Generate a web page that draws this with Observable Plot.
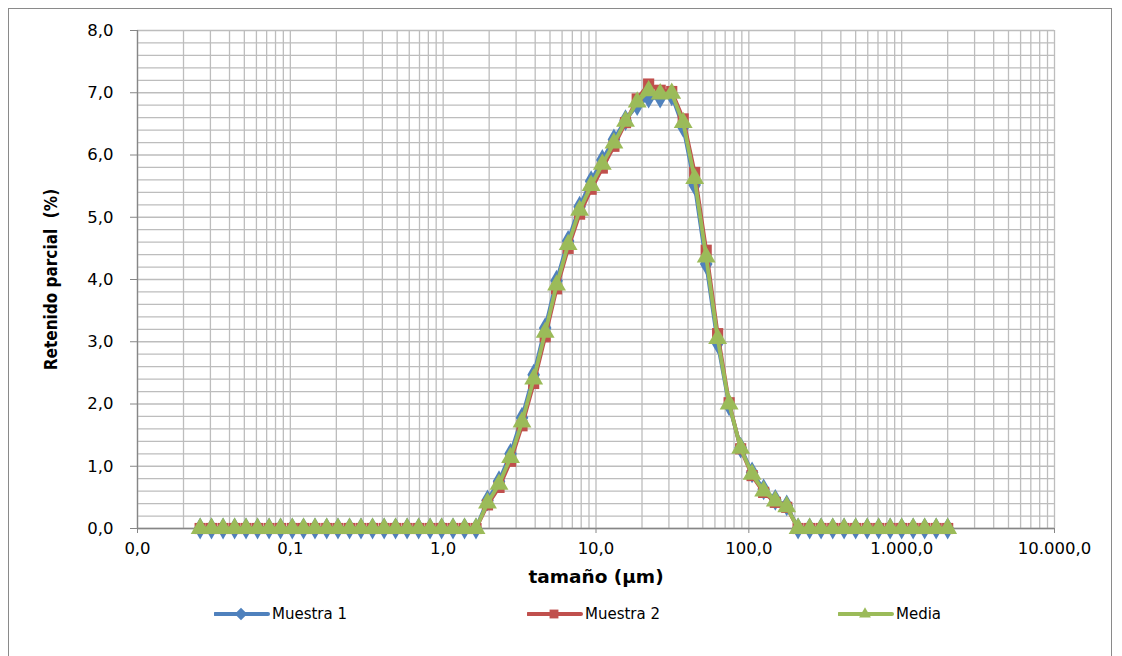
<!DOCTYPE html>
<html>
<head>
<meta charset="utf-8">
<script src="https://cdn.jsdelivr.net/npm/d3@7"></script>
<script src="https://cdn.jsdelivr.net/npm/@observablehq/plot@0.6"></script>
<style>
  html, body { margin: 0; padding: 0; background: #fff; }
  #wrap { position: relative; width: 1122px; height: 656px; overflow: hidden; font-family: "DejaVu Sans", sans-serif; }
  #border { position: absolute; left: 8px; top: 8px; width: 1104px; height: 700px; border: 1px solid #8a8a8a; box-sizing: border-box; }
  #chart { position: absolute; left: 0; top: 0; }
  #legend { position: absolute; left: 0; top: 604px; width: 1122px; height: 22px; }
  .item { position: absolute; top: 0; display: flex; align-items: center; font-size: 15px; color: #000; }
  .item svg { display: block; }
</style>
</head>
<body>
<div id="wrap">
  <div id="border"></div>
  <div id="chart"></div>
  <div id="legend"></div>
</div>
<script>
// Particle size classes (µm)
const sizes = [
  0.0257, 0.0305, 0.0363, 0.0432, 0.0513, 0.0610, 0.0726, 0.0863,
  0.103, 0.122, 0.145, 0.173, 0.205, 0.244, 0.290, 0.345,
  0.411, 0.488, 0.581, 0.691, 0.821, 0.977, 1.16, 1.38,
  1.64, 1.95, 2.32, 2.76, 3.28, 3.91, 4.65, 5.52,
  6.57, 7.81, 9.29, 11.0, 13.1, 15.6, 18.6, 22.1,
  26.3, 31.3, 37.2, 44.2, 52.6, 62.5, 74.3, 88.4,
  105, 125, 149, 177, 210, 250, 297, 354,
  420, 500, 595, 707, 841, 1000, 1189, 1414,
  1682, 2000
];

// Retenido parcial (%) per size class
const muestra1 = [
  0, 0, 0, 0, 0, 0, 0, 0, 0, 0, 0, 0, 0, 0, 0, 0, 0, 0, 0, 0, 0, 0, 0, 0, 0,
  0.45, 0.76, 1.20, 1.78, 2.47, 3.22, 3.98, 4.62, 5.17, 5.58, 5.92, 6.25, 6.56,
  6.80, 6.92, 6.92, 6.96, 6.45, 5.52, 4.25, 2.98, 1.98, 1.30, 0.90, 0.63, 0.46, 0.37,
  0, 0, 0, 0, 0, 0, 0, 0, 0, 0, 0, 0, 0, 0
];
const muestra2 = [
  0, 0, 0, 0, 0, 0, 0, 0, 0, 0, 0, 0, 0, 0, 0, 0, 0, 0, 0, 0, 0, 0, 0, 0, 0,
  0.38, 0.66, 1.08, 1.65, 2.33, 3.08, 3.85, 4.50, 5.05, 5.45, 5.79, 6.14, 6.52,
  6.90, 7.14, 7.04, 7.02, 6.58, 5.72, 4.47, 3.13, 2.02, 1.28, 0.85, 0.58, 0.42, 0.34,
  0, 0, 0, 0, 0, 0, 0, 0, 0, 0, 0, 0, 0, 0
];
const media = [
  0, 0, 0, 0, 0, 0, 0, 0, 0, 0, 0, 0, 0, 0, 0, 0, 0, 0, 0, 0, 0, 0, 0, 0, 0,
  0.41, 0.71, 1.14, 1.71, 2.40, 3.15, 3.91, 4.56, 5.11, 5.51, 5.85, 6.19, 6.54,
  6.85, 7.03, 6.98, 6.99, 6.52, 5.62, 4.36, 3.05, 2.00, 1.29, 0.87, 0.60, 0.44, 0.35,
  0, 0, 0, 0, 0, 0, 0, 0, 0, 0, 0, 0, 0, 0
];

const seriesNames = ["Muestra 1", "Muestra 2", "Media"];
const seriesColors = ["#4F81BD", "#C0504D", "#9BBB59"];
const seriesSymbols = ["diamond", "square", "triangle"];
const markerRadius = [6.6, 6.3, 7];
const xTickValues = [0.01, 0.1, 1, 10, 100, 1000, 10000];
const yTickValues = [0, 1, 2, 3, 4, 5, 6, 7, 8];
const xTitle = "tamaño (µm)";
const yTitle = "Retenido parcial\u00a0 (%)";

// Spanish number formatting: comma decimals, dot thousands
const es = d3.formatLocale({decimal: ",", thousands: ".", grouping: [3], currency: ["", " €"]});
const fmt = es.format(",.1f");

// Minor log grid (1..9 per decade) and 0.2 horizontal grid
const xGrid = [];
for (let e = -2; e < 4; ++e) for (let m = 1; m < 10; ++m) xGrid.push(+(m * Math.pow(10, e)).toPrecision(3));
xGrid.push(10000);
const yGrid = d3.range(0, 41).map(i => +(i * 0.2).toFixed(1));

const rows = [muestra1, muestra2, media].map((vals, s) =>
  sizes.map((x, i) => ({serie: seriesNames[s], x, y: vals[i]}))
);

const seriesMarks = rows.flatMap((data, s) => [
  Plot.line(data, {x: "x", y: "y", stroke: seriesColors[s], strokeWidth: 3.8, strokeLinejoin: "round"}),
  Plot.dot(data, {x: "x", y: "y", symbol: seriesSymbols[s], fill: seriesColors[s], stroke: "none", r: markerRadius[s]})
]);

const chart = Plot.plot({
  width: 1122,
  height: 600,
  marginLeft: 137,
  marginRight: 68,
  marginTop: 30,
  marginBottom: 72,
  style: {fontFamily: "DejaVu Sans, sans-serif", fontSize: "16.5px", color: "#000", background: "transparent"},
  x: {type: "log", domain: [0.01, 10000]},
  y: {domain: [0, 8]},
  marks: [
    Plot.gridX(xGrid, {stroke: "#bdbdbd", strokeOpacity: 1, strokeWidth: 1.3}),
    Plot.gridY(yGrid, {stroke: "#bdbdbd", strokeOpacity: 1, strokeWidth: 1.3}),
    Plot.ruleY([0], {stroke: "#868686", strokeWidth: 1.3}),
    Plot.ruleX([0.01], {stroke: "#868686", strokeWidth: 1.3}),
    Plot.axisX(xTickValues, {tickFormat: fmt, tickSize: 5, tickPadding: 9, stroke: "#868686", fill: "#000", fontSize: 16.5, label: null}),
    Plot.axisY(yTickValues, {tickFormat: fmt, tickSize: 7, tickPadding: 17, stroke: "#868686", fill: "#000", fontSize: 16.5, label: null}),
    ...seriesMarks,
    Plot.text([xTitle], {frameAnchor: "bottom", dy: 54, fontWeight: "bold", fontSize: 18.5, fill: "#000",
      fontFamily: "DejaVu Sans, sans-serif"}),
    Plot.text([yTitle], {frameAnchor: "left", dx: -86, rotate: -90, textAnchor: "middle", fontWeight: "bold", fontSize: 17, fill: "#000",
      fontFamily: "Liberation Sans Narrow, DejaVu Sans Condensed, Roboto Condensed, Liberation Sans, sans-serif"})
  ]
});
document.getElementById("chart").appendChild(chart);

// Legend below the plot
const legend = d3.select("#legend");
const legendLeft = [214, 527, 838];
seriesNames.forEach((name, s) => {
  const item = legend.append("div").attr("class", "item").style("left", legendLeft[s] + "px");
  const sw = item.append("svg").attr("width", 56).attr("height", 20);
  sw.append("line").attr("x1", 1).attr("x2", 54).attr("y1", 10).attr("y2", 10)
    .attr("stroke", seriesColors[s]).attr("stroke-width", 4).attr("stroke-linecap", "round");
  sw.append("path").attr("transform", "translate(27,10)")
    .attr("d", d3.symbol(s === 0 ? d3.symbolDiamond2 : s === 1 ? d3.symbolSquare2 : d3.symbolTriangle2, 100)())
    .attr("fill", seriesColors[s]);
  item.append("span").text(name).style("margin-left", "2px");
});
</script>
</body>
</html>
